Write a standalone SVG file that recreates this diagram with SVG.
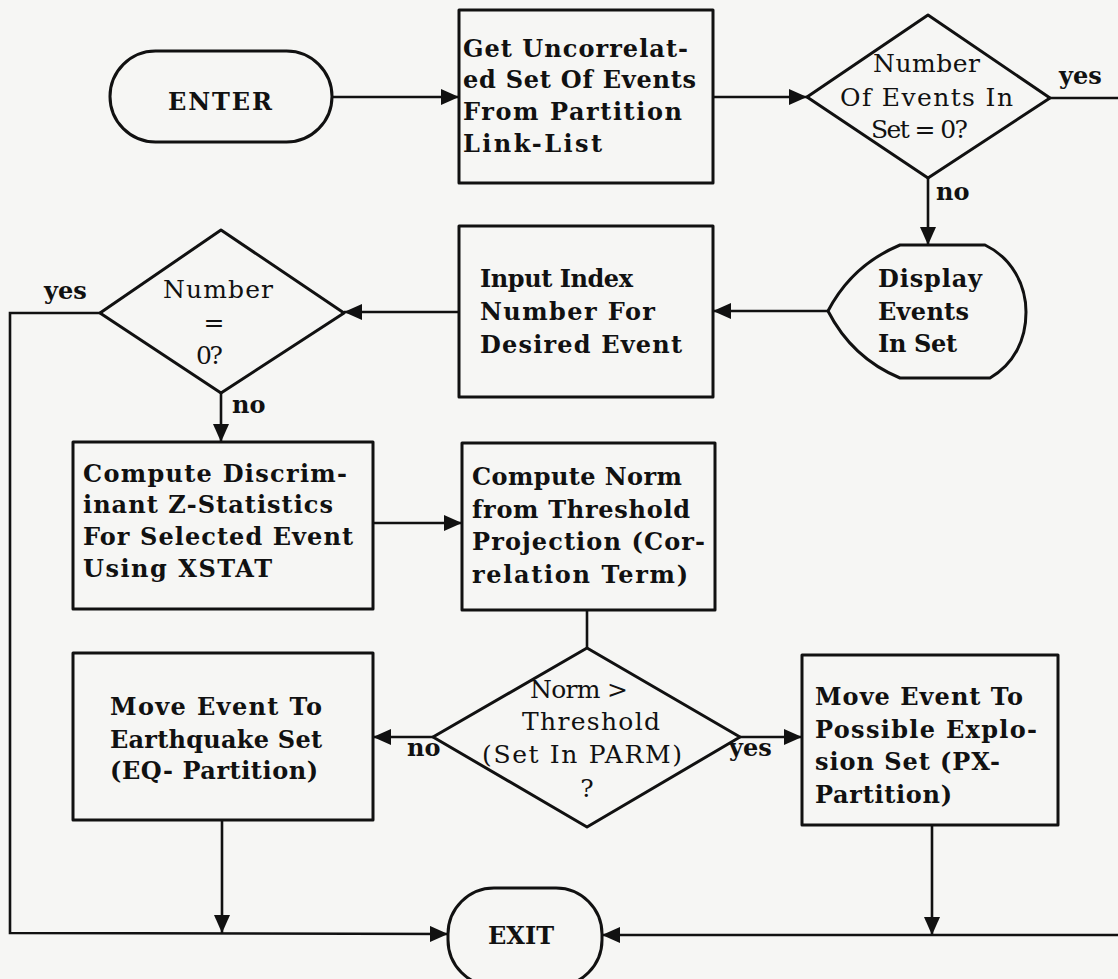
<svg xmlns="http://www.w3.org/2000/svg" width="1118" height="979" viewBox="0 0 1118 979">
  <style>
    .shape { fill: none; stroke: #111; stroke-width: 3; stroke-linejoin: round; }
    .wire { fill: none; stroke: #111; stroke-width: 2.6; }
    .t { font-family: "DejaVu Serif", "Liberation Serif", serif; font-size: 24px; fill: #111; font-weight: bold; }
    .l { font-family: "DejaVu Serif", "Liberation Serif", serif; font-size: 24px; fill: #111; font-weight: bold; }
    .d { font-family: "DejaVu Serif", "Liberation Serif", serif; font-size: 25px; fill: #111; }
    .c { text-anchor: middle; }
  </style>
  <defs>
    <marker id="arrow" markerUnits="userSpaceOnUse" markerWidth="20" markerHeight="16" refX="18" refY="8" orient="auto">
      <path d="M0,0 L18,8 L0,16 Z" fill="#111"/>
    </marker>
  </defs>
  <rect width="1118" height="979" fill="#f6f6f4"/>

  <!-- connectors -->
  <g id="connectors">
    <path class="wire" d="M332,97 L459,97" marker-end="url(#arrow)"/>
    <path class="wire" d="M713,97 L807,97" marker-end="url(#arrow)"/>
    <path class="wire" d="M1050,98 L1118,98"/>
    <path class="wire" d="M928,178 L928,245" marker-end="url(#arrow)"/>
    <path class="wire" d="M828,311 L713,311" marker-end="url(#arrow)"/>
    <path class="wire" d="M459,312 L344,312" marker-end="url(#arrow)"/>
    <path class="wire" d="M100,313 L10,313 L10,933 L448,934" marker-end="url(#arrow)"/>
    <path class="wire" d="M221,393 L221,442" marker-end="url(#arrow)"/>
    <path class="wire" d="M373,523 L462,523" marker-end="url(#arrow)"/>
    <path class="wire" d="M587,610 L587,648"/>
    <path class="wire" d="M433,737 L373,737" marker-end="url(#arrow)"/>
    <path class="wire" d="M740,737 L802,737" marker-end="url(#arrow)"/>
    <path class="wire" d="M222,820 L222,933" marker-end="url(#arrow)"/>
    <path class="wire" d="M932,825 L932,935" marker-end="url(#arrow)"/>
    <path class="wire" d="M1118,935 L602,935" marker-end="url(#arrow)"/>
    <text class="l" x="1059" y="84">yes</text>
    <text class="l" x="936" y="200">no</text>
    <text class="l" x="44" y="299">yes</text>
    <text class="l" x="232" y="413">no</text>
    <text class="l" x="407" y="756">no</text>
    <text class="l" x="729" y="756">yes</text>
  </g>

  <g id="enter">
    <rect class="shape" x="110" y="51" width="222" height="91" rx="45.5" ry="45.5"/>
    <text class="t" x="168" y="110" textLength="104" lengthAdjust="spacing">ENTER</text>
  </g>

  <g id="get-set">
    <rect class="shape" x="459" y="10" width="254" height="173"/>
    <text class="t" x="463" y="57" textLength="225" lengthAdjust="spacing">Get Uncorrelat-</text>
    <text class="t" x="463" y="88" textLength="233" lengthAdjust="spacing">ed Set Of Events</text>
    <text class="t" x="463" y="120" textLength="219" lengthAdjust="spacing">From Partition</text>
    <text class="t" x="463" y="152" textLength="139" lengthAdjust="spacing">Link-List</text>
  </g>

  <g id="count-zero">
    <path class="shape" d="M928,15 L1050,98 L928,178 L807,97 Z"/>
    <text class="d" x="873" y="72" textLength="107" lengthAdjust="spacing">Number</text>
    <text class="d" x="840" y="106" textLength="173" lengthAdjust="spacing">Of Events In</text>
    <text class="d" x="871" y="138" textLength="97" lengthAdjust="spacing">Set = 0?</text>
  </g>

  <g id="display-events">
    <path class="shape" d="M900,245 L985,245 C1012,258 1026,285 1026,312 C1026,340 1014,364 990,378 L900,378 Q852,358 828,311 Q852,265 900,245 Z"/>
    <text class="t" x="878" y="287" textLength="104" lengthAdjust="spacing">Display</text>
    <text class="t" x="878" y="320" textLength="91" lengthAdjust="spacing">Events</text>
    <text class="t" x="878" y="352" textLength="79" lengthAdjust="spacing">In Set</text>
  </g>

  <g id="input-index">
    <rect class="shape" x="459" y="226" width="254" height="171"/>
    <text class="t" x="480" y="287" textLength="153" lengthAdjust="spacing">Input Index</text>
    <text class="t" x="480" y="320" textLength="175" lengthAdjust="spacing">Number For</text>
    <text class="t" x="480" y="353" textLength="202" lengthAdjust="spacing">Desired Event</text>
  </g>

  <g id="number-zero">
    <path class="shape" d="M221,230 L344,313 L221,393 L100,313 Z"/>
    <text class="d" x="163" y="298" textLength="110" lengthAdjust="spacing">Number</text>
    <text class="d c" x="214" y="331">=</text>
    <text class="d" x="196" y="364" textLength="27" lengthAdjust="spacing">0?</text>
  </g>

  <g id="z-statistics">
    <rect class="shape" x="73" y="442" width="300" height="167"/>
    <text class="t" x="83" y="482" textLength="264" lengthAdjust="spacing">Compute Discrim-</text>
    <text class="t" x="83" y="513" textLength="250" lengthAdjust="spacing">inant Z-Statistics</text>
    <text class="t" x="83" y="545" textLength="270" lengthAdjust="spacing">For Selected Event</text>
    <text class="t" x="83" y="577" textLength="189" lengthAdjust="spacing">Using XSTAT</text>
  </g>

  <g id="compute-norm">
    <rect class="shape" x="462" y="443" width="253" height="167"/>
    <text class="t" x="472" y="485" textLength="210" lengthAdjust="spacing">Compute Norm</text>
    <text class="t" x="472" y="518" textLength="218" lengthAdjust="spacing">from Threshold</text>
    <text class="t" x="472" y="550" textLength="233" lengthAdjust="spacing">Projection (Cor-</text>
    <text class="t" x="472" y="583" textLength="216" lengthAdjust="spacing">relation Term)</text>
  </g>

  <g id="norm-threshold">
    <path class="shape" d="M587,648 L740,737 L587,827 L433,737 Z"/>
    <text class="d" x="530" y="698" textLength="98" lengthAdjust="spacing">Norm &gt;</text>
    <text class="d" x="522" y="730" textLength="138" lengthAdjust="spacing">Threshold</text>
    <text class="d" x="482" y="763" textLength="200" lengthAdjust="spacing">(Set In PARM)</text>
    <text class="d c" x="587" y="797">?</text>
  </g>

  <g id="earthquake-set">
    <rect class="shape" x="73" y="653" width="300" height="167"/>
    <text class="t" x="110" y="715" textLength="212" lengthAdjust="spacing">Move Event To</text>
    <text class="t" x="110" y="748" textLength="212" lengthAdjust="spacing">Earthquake Set</text>
    <text class="t" x="110" y="779" textLength="208" lengthAdjust="spacing">(EQ- Partition)</text>
  </g>

  <g id="explosion-set">
    <rect class="shape" x="802" y="655" width="256" height="170"/>
    <text class="t" x="815" y="705" textLength="208" lengthAdjust="spacing">Move Event To</text>
    <text class="t" x="815" y="738" textLength="222" lengthAdjust="spacing">Possible Explo-</text>
    <text class="t" x="815" y="770" textLength="185" lengthAdjust="spacing">sion Set (PX-</text>
    <text class="t" x="815" y="803" textLength="137" lengthAdjust="spacing">Partition)</text>
  </g>

  <g id="exit">
    <rect class="shape" x="448" y="888" width="154" height="98" rx="46" ry="46"/>
    <text class="t c" x="521" y="944">EXIT</text>
  </g>
</svg>
